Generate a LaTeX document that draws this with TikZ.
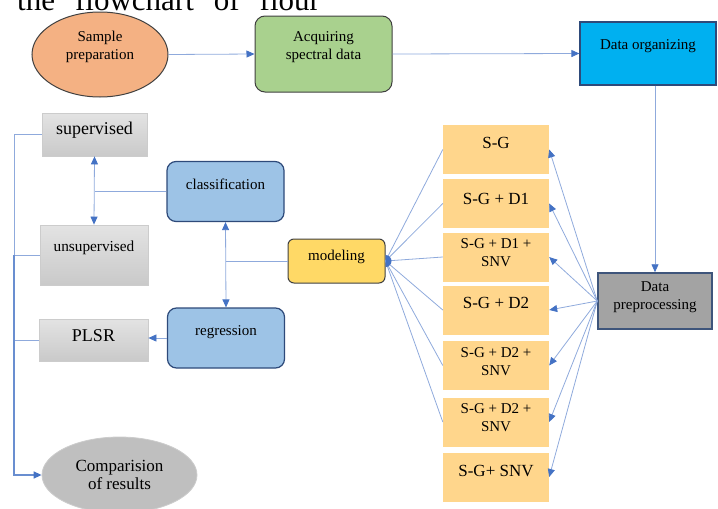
\documentclass[tikz,border=0pt]{standalone}
\usepackage{fontspec}
\setmainfont{Liberation Serif}
\usetikzlibrary{arrows.meta,shapes.geometric}

\definecolor{samplefill}{HTML}{F4B183}
\definecolor{acqfill}{HTML}{A9D18E}
\definecolor{orgfill}{HTML}{00B0F0}
\definecolor{prefill}{HTML}{A3A3A3}
\definecolor{methfill}{HTML}{FFD68C}
\definecolor{modfill}{HTML}{FFD966}
\definecolor{taskfill}{HTML}{9DC3E6}
\definecolor{edgecol}{HTML}{404040}
\definecolor{taskedge}{HTML}{2E4A7A}
\definecolor{linecol}{HTML}{8FAADC}
\definecolor{tipcol}{HTML}{4472C4}

\tikzset{
  fs/.style={font=\fontsize{#1}{18}\selectfont},
  lift/.style={text depth=#1},
  box/.style={draw=edgecol, line width=1pt, align=center, inner sep=2pt, fs=15},
  meth/.style={fill=methfill, minimum width=106pt, minimum height=49pt, align=center, inner sep=2pt, fs=15},
  greybox/.style={draw=gray!40, line width=0.8pt, top color=gray!22, bottom color=gray!42, minimum width=107pt, align=center, inner sep=2pt},
  task/.style={box, draw=taskedge, line width=1.2pt, fill=taskfill, rounded corners=9pt, minimum width=117pt, minimum height=60pt},
  conn/.style={draw=linecol, line width=0.8pt},
  arr/.style={conn, -{Triangle[length=8pt,width=7pt,color=tipcol]}},
  twoarr/.style={conn, {Triangle[length=8pt,width=7pt,color=tipcol]}-{Triangle[length=8pt,width=7pt,color=tipcol]}},
}

\begin{document}
\begin{tikzpicture}[x=1pt, y=-1pt]
  \useasboundingbox (0,0) rectangle (718,509);
  \clip (0,0) rectangle (718,509);

  % caption line, cut off at the top
  \node[anchor=base west, inner sep=0pt, font=\fontsize{31}{31}\selectfont] (title) at (17,10)
    {the\hspace{20pt}flowchart\hspace{20pt}of\hspace{20pt}flour};

  % top row
  \node[box, ellipse, fill=samplefill, minimum width=136pt, minimum height=85pt, lift=19pt] (sample) at (100,54.5) {Sample\\preparation};
  \node[box, fill=acqfill, rounded corners=10pt, minimum width=137pt, minimum height=76pt, lift=17pt] (acq) at (323.5,54) {Acquiring\\spectral data};
  \node[box, draw=taskedge, line width=1.2pt, fill=orgfill, minimum width=136pt, minimum height=63pt, lift=17pt] (org) at (648,53.5) {Data organizing};
  \node[box, draw=taskedge!80!gray, line width=1.5pt, fill=prefill, minimum width=114pt, minimum height=56pt, lift=10pt] (pre) at (655,301) {Data\\preprocessing};

  % preprocessing methods
  \node[meth, fs=17, lift=14pt] (sg)      at (496,149.5) {S-G};
  \node[meth, fs=17, lift=10pt] (sgd1)    at (496,203.5) {S-G + D1};
  \node[meth, lift=8pt]         (sgd1snv) at (496,257)   {S-G + D1 +\\SNV};
  \node[meth, fs=17, lift=14pt] (sgd2)    at (496,310)   {S-G + D2};
  \node[meth, lift=8pt]         (sgd2snv) at (496,365.5) {S-G + D2 +\\SNV};
  \node[meth, lift=8pt]         (sgdd)    at (496,422)   {S-G + D2 +\\SNV};
  \node[meth, fs=17, lift=12pt] (sgsnv)   at (496,477)   {S-G+ SNV};

  % modeling side
  \node[box, fill=modfill, rounded corners=6pt, minimum width=97pt, minimum height=44pt, lift=11pt] (model) at (336.5,261) {modeling};
  \node[task, lift=14pt] (cls) at (225.5,191.5) {classification};
  \node[task, lift=15pt] (reg) at (226,338) {regression};

  \node[greybox, fs=18, minimum width=105pt, minimum height=43pt, lift=12pt] (sup) at (94.5,134.5) {supervised};
  \node[greybox, fs=15.3, minimum width=108pt, minimum height=60pt, lift=17pt] (uns) at (94,255) {unsupervised};
  \node[greybox, fs=18, minimum width=109pt, minimum height=42pt, lift=8pt] (plsr) at (93.5,340) {PLSR};
  \node[ellipse, draw=gray!40, fill=gray!50, line width=0.8pt, align=center, fs=17, minimum width=155pt, minimum height=76pt] (comp) at (119.5,475) {Comparision\\of results};

  \coordinate (bus) at (14,0);

  % connectors
  \draw[arr] (sample.east) -- (acq.west);
  \draw[arr] (acq.east) -- (org.west);
  \draw[arr] (org.south -| pre.north) -- (pre.north);
  \foreach \m in {sg,sgd1,sgd1snv,sgd2,sgd2snv,sgdd,sgsnv}
    \draw[arr] (pre.west) -- (\m.east);
  \foreach \m in {sg,sgd1,sgd1snv,sgd2,sgd2snv,sgdd}
    \draw[conn] (model.east) -- (\m.west);
  \fill[tipcol] (model.east) ++(0,-6) arc[start angle=-90, end angle=90, radius=6] -- cycle;

  \draw[conn] (model.west) -- (model.west -| cls.south);
  \draw[twoarr] (cls.south) -- (reg.north);
  \draw[conn] (cls.west) -- (cls.west -| sup.south);
  \draw[twoarr] (sup.south) -- (uns.north);
  \draw[arr] (reg.west) -- (reg.west -| plsr.east);

  \draw[conn] (sup.west) -- (sup.west -| bus) -- (uns.west -| bus);
  \draw[conn] (uns.west) -- (uns.west -| bus);
  \draw[conn] (plsr.west) -- (plsr.west -| bus);
  \draw[arr, draw=tipcol!80, line width=1.4pt] (uns.west -| bus) -- (comp.west -| bus) -- (comp.west);
\end{tikzpicture}
\end{document}
